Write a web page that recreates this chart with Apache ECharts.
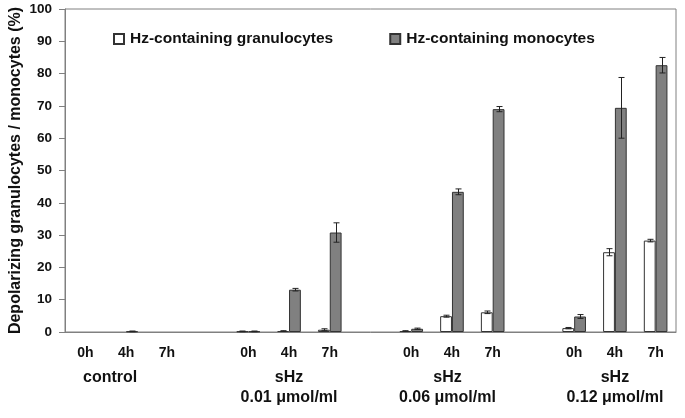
<!DOCTYPE html>
<html>
<head>
<meta charset="utf-8">
<script src="https://cdn.jsdelivr.net/npm/echarts@6/dist/echarts.min.js"></script>
<style>
  html, body { margin: 0; padding: 0; background: #fff; }
  #main { width: 685px; height: 418px; }
</style>
</head>
<body>
<div id="main"></div>
<script>
// categories: 4 groups of 0h/4h/7h with an empty slot between groups
var timeLabels = ['0h', '4h', '7h', '', '0h', '4h', '7h', '', '0h', '4h', '7h', '', '0h', '4h', '7h'];
var groupLabels = ['', 'control', '', '', '', 'sHz\n0.01 μmol/ml', '', '', '', 'sHz\n0.06 μmol/ml', '', '', '', 'sHz\n0.12 μmol/ml', ''];

// values (%)
var granulocytes = [null, null, null, null, 0.2, 0.3, 0.7, null, 0.3, 4.9, 6.1, null, 1.2, 24.7, 28.3];
var granErr      = [0,    0,    0,    0,    0.1, 0.1, 0.3, 0,    0.1, 0.3, 0.4, 0,    0.2, 1.1, 0.4];
var monocytes    = [null, 0.2, null, null, 0.2, 13.1, 30.8, null, 1.0, 43.4, 69.0, null, 4.8, 69.4, 82.6];
var monoErr      = [0,    0.1, 0,    0,    0.1, 0.4, 3.0,  0,    0.2, 0.9, 0.8,  0,    0.6, 9.4, 2.4];

var yTicks = { min: 0, max: 100, interval: 10 };

var font = 'Liberation Sans, Arial, sans-serif';
var axisGray = '#808080';

var myChart = echarts.init(document.getElementById('main'));

// error bar data: [category index, value, error]
function errData(vals, errs) {
    var out = [];
    for (var i = 0; i < vals.length; i++) {
        if (vals[i] == null || !errs[i]) continue;
        out.push([i, vals[i], errs[i]]);
    }
    return out;
}

var catGap = 0.42; // fraction of band left empty
function errorBar(offsetSign) {
    return function (params, api) {
        var i = api.value(0), v = api.value(1), e = api.value(2);
        var bw = api.size([1, 0])[0];
        var barW = bw * (1 - catGap) / 2;
        var base = api.coord([i, v]);
        var x = Math.round(base[0] + offsetSign * barW / 2) + 0.5;
        var top = api.coord([i, v + e])[1];
        var bot = api.coord([i, v - e])[1];
        var cap = 3;
        var st = { stroke: '#222', lineWidth: 1 };
        return {
            type: 'group',
            children: [
                { type: 'line', shape: { x1: x, y1: top, x2: x, y2: bot }, style: st },
                { type: 'line', shape: { x1: x - cap, y1: top, x2: x + cap, y2: top }, style: st },
                { type: 'line', shape: { x1: x - cap, y1: bot, x2: x + cap, y2: bot }, style: st }
            ]
        };
    };
}

// group labels: nudge a couple of them left like in the original
var groupData = groupLabels.map(function (g) {
    if (g === 'control') return { value: g, textStyle: { padding: [0, 32, 0, 0] } };
    if (g.indexOf('0.06') >= 0) return { value: g, textStyle: { padding: [0, 9, 0, 0] } };
    return g;
});

myChart.setOption({
    animation: false,
    backgroundColor: '#fff',
    textStyle: { fontFamily: font },
    grid: {
        left: 65, right: 9, top: 9, bottom: 86,
        outerBoundsMode: 'none',
        show: true, borderColor: axisGray, borderWidth: 1
    },
    legend: {
        left: 108, top: 26,
        itemWidth: 10, itemHeight: 10, itemGap: 56,
        icon: 'rect',
        textStyle: { fontFamily: font, fontWeight: 'bold', fontSize: 15.5, color: '#111', padding: [0, 0, 0, 1] },
        data: ['Hz-containing granulocytes', 'Hz-containing monocytes']
    },
    xAxis: [{
        type: 'category',
        data: timeLabels,
        axisLine: { lineStyle: { color: axisGray } },
        axisTick: { interval: 0, length: 4, lineStyle: { color: axisGray } },
        axisLabel: { interval: 0, margin: 14, fontFamily: font, fontWeight: 'bold', fontSize: 14, color: '#111' }
    }, {
        type: 'category',
        data: groupData,
        position: 'bottom',
        axisLine: { show: false },
        axisTick: { show: false },
        axisLabel: { interval: 0, margin: 36, lineHeight: 20, fontFamily: font, fontWeight: 'bold', fontSize: 16, color: '#111' }
    }],
    yAxis: {
        type: 'value',
        min: yTicks.min, max: yTicks.max, interval: yTicks.interval,
        name: 'Depolarizing granulocytes / monocytes (%)',
        nameLocation: 'middle',
        nameGap: 41,
        nameMoveOverlap: false,
        nameTextStyle: { fontFamily: font, fontWeight: 'bold', fontSize: 16, color: '#111' },
        axisLine: { show: true, lineStyle: { color: axisGray } },
        axisTick: { show: true, length: 6, lineStyle: { color: axisGray } },
        splitLine: { show: false },
        axisLabel: { margin: 13, fontFamily: font, fontWeight: 'bold', fontSize: 13.5, color: '#111' }
    },
    series: [{
        name: 'Hz-containing granulocytes',
        type: 'bar',
        data: granulocytes,
        barGap: 0,
        barCategoryGap: (catGap * 100) + '%',
        itemStyle: { color: '#fff', borderColor: '#333', borderWidth: 1 }
    }, {
        name: 'Hz-containing monocytes',
        type: 'bar',
        data: monocytes,
        itemStyle: { color: '#808080', borderColor: '#333', borderWidth: 1 }
    }, {
        type: 'custom',
        renderItem: errorBar(-1),
        data: errData(granulocytes, granErr),
        z: 10,
        silent: true
    }, {
        type: 'custom',
        renderItem: errorBar(1),
        data: errData(monocytes, monoErr),
        z: 10,
        silent: true
    }]
});
</script>
</body>
</html>
